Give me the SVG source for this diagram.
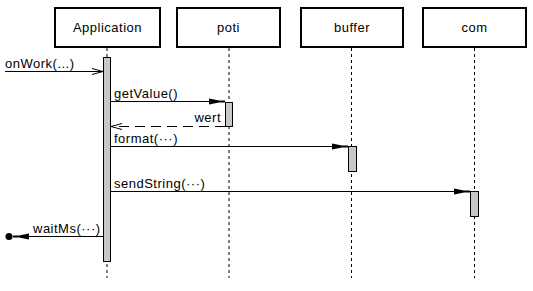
<svg xmlns="http://www.w3.org/2000/svg" width="533" height="291" viewBox="0 0 533 291">
<style>
.box{fill:#fff;stroke:#000;stroke-width:2}
.life{stroke:#000;stroke-width:1;stroke-dasharray:3,3}
.act{fill:#c8c8c8;stroke:#000;stroke-width:1}
.msg{stroke:#000;stroke-width:1;fill:none}
.ret{stroke:#000;stroke-width:1;fill:none;stroke-dasharray:10,6}
text{font-family:"Liberation Sans",Arial,sans-serif;font-size:13px;fill:#000;letter-spacing:0.5px}
.c{text-anchor:middle}
</style>
<defs>
<marker id="fill" markerWidth="16" markerHeight="8" refX="16" refY="4" orient="auto" markerUnits="userSpaceOnUse">
<path d="M0,1 L10,3 L16,3 L16,5 L10,5 L0,7 Z" fill="#000"/>
</marker>
<marker id="open" markerWidth="12" markerHeight="8" refX="11" refY="4" orient="auto" markerUnits="userSpaceOnUse">
<path d="M0,1 L11,4 L0,7" fill="none" stroke="#000" stroke-width="1"/>
</marker>
</defs>
<g id="application">
<rect class="box" x="55" y="8" width="105" height="39"/>
<text class="c" x="107.5" y="32">Application</text>
<line class="life" x1="107" y1="48" x2="107" y2="278"/>
<rect class="act" x="103.5" y="57.5" width="7" height="204"/>
</g>
<g id="poti">
<rect class="box" x="177" y="8" width="103" height="39"/>
<text class="c" x="228.5" y="32">poti</text>
<line class="life" x1="229" y1="48" x2="229" y2="278"/>
<rect class="act" x="225.5" y="102.5" width="7" height="24"/>
</g>
<g id="buffer">
<rect class="box" x="301" y="8" width="102" height="39"/>
<text class="c" x="352" y="32">buffer</text>
<line class="life" x1="351.5" y1="48" x2="351.5" y2="278"/>
<rect class="act" x="348.5" y="146.5" width="8" height="25"/>
</g>
<g id="com">
<rect class="box" x="423" y="8" width="103" height="39"/>
<text class="c" x="474.5" y="32">com</text>
<line class="life" x1="474.5" y1="48" x2="474.5" y2="278"/>
<rect class="act" x="470.5" y="191.5" width="8" height="25"/>
</g>
<g id="connectors">
<line class="msg" x1="5" y1="71.5" x2="103" y2="71.5" marker-end="url(#open)"/>
<text x="5" y="68">onWork(...)</text>
<line class="msg" x1="111" y1="101.5" x2="225" y2="101.5" marker-end="url(#fill)"/>
<text x="114" y="98">getValue()</text>
<line class="ret" x1="225" y1="126.5" x2="111" y2="126.5" marker-end="url(#open)"/>
<text x="221" y="122" text-anchor="end">wert</text>
<line class="msg" x1="111" y1="146.5" x2="348" y2="146.5" marker-end="url(#fill)"/>
<text x="114" y="143">format(···)</text>
<line class="msg" x1="111" y1="191.5" x2="470" y2="191.5" marker-end="url(#fill)"/>
<text x="114" y="188">sendString(···)</text>
<line class="msg" x1="103" y1="236.5" x2="13" y2="236.5" marker-end="url(#fill)"/>
<circle cx="9" cy="236.5" r="3.5" fill="#000"/>
<text x="33" y="233">waitMs(···)</text>
</g>
</svg>
